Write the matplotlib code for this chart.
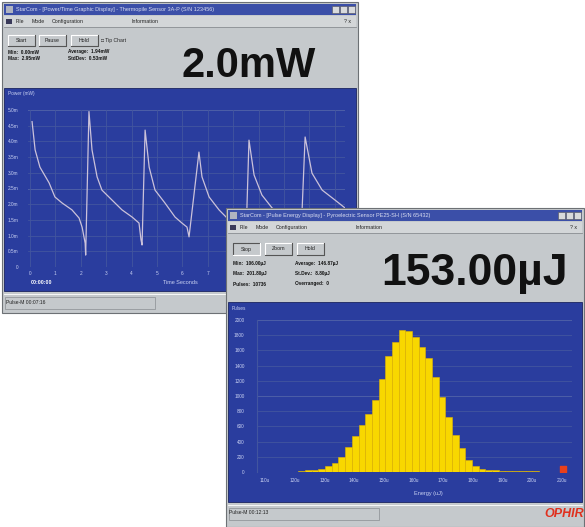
import matplotlib
matplotlib.use("Agg")
import matplotlib.pyplot as plt
from matplotlib.patches import Rectangle

plt.rcParams['font.family'] = ['Liberation Sans', 'DejaVu Sans']

# ---------------- data ----------------
# Window 1: power vs time trace
t_sec = [0.08, 0.20, 0.39, 0.75, 0.98, 1.26, 1.65, 1.93, 2.05, 2.17, 2.19,
         2.32, 2.44, 2.64, 2.83, 3.23, 3.62, 4.02, 4.29, 4.37, 4.41,
         4.53, 4.69, 4.92, 5.31, 5.71, 5.98, 6.18, 6.26,
         6.65, 6.77, 7.05, 7.44, 7.83, 8.15, 8.35, 8.50,
         8.62, 8.82, 9.13, 9.53, 10.12, 10.51, 10.67,
         10.83, 11.10, 11.50, 12.01, 12.40]
p_mW = [4.63, 3.73, 3.18, 2.68, 2.23, 2.04, 1.82, 1.56, 1.27, 0.76, 0.38,
        4.95, 3.73, 2.87, 2.45, 2.13, 1.82, 1.59, 1.40, 0.86, 0.70,
        4.36, 3.18, 2.45, 2.04, 1.59, 1.40, 1.27, 0.96,
        3.66, 2.87, 2.23, 1.82, 1.50, 1.31, 1.11, 0.86,
        4.04, 2.93, 2.29, 1.88, 1.56, 1.34, 1.02,
        4.14, 2.99, 2.45, 2.13, 1.88]
time_ticks = list(range(0, 13))
# labels from 8 s on are hidden behind the second window
time_labels = ["0", "1", "2", "3", "4", "5", "6", "7", "", "", "", "", ""]
power_ticks = [0.0, 0.5, 1.0, 1.5, 2.0, 2.5, 3.0, 3.5, 4.0, 4.5, 5.0]
power_labels = ["0", "0.5m", "1.0m", "1.5m", "2.0m", "2.5m", "3.0m", "3.5m",
                "4.0m", "4.5m", "5.0m"]

# Window 2: pulse energy histogram
bin_left_uJ = [119.0, 121.25, 123.5, 125.75, 128.0, 130.25, 132.5, 134.75,
               137.0, 139.25, 141.5, 143.75, 146.0, 148.25, 150.5, 152.75,
               155.0, 157.25, 159.5, 161.75, 164.0, 166.25, 168.5, 170.75,
               173.0, 175.25, 177.5, 179.75, 182.0, 184.25, 186.5, 188.75,
               191.0, 193.25, 195.5, 197.75, 200.0, 202.25, 204.5]
bin_width_uJ = 2.25
pulse_counts = [5, 10, 22, 30, 45, 80, 120, 200, 330, 480, 620, 760, 950,
                1230, 1520, 1715, 1868, 1860, 1780, 1650, 1500, 1250, 990,
                730, 490, 310, 160, 75, 45, 30, 22, 18, 15, 12, 10, 9, 8, 6, 5]
overrange_uJ = [210.3]
overrange_count = [40]
energy_ticks = [110, 120, 130, 140, 150, 160, 170, 180, 190, 200, 210]
energy_labels = ["110u", "120u", "130u", "140u", "150u", "160u", "170u",
                 "180u", "190u", "200u", "210u"]
count_ticks = [0, 200, 400, 600, 800, 1000, 1200, 1400, 1600, 1800, 2000]
count_labels = ["0", "200", "400", "600", "800", "1000", "1200", "1400",
                "1600", "1800", "2000"]

# ---------------- style ----------------
W, H = 585, 527
GREY = '#c5c9cc'
GREY_D = '#8a8e92'
PANEL = '#2a3d9e'
TITLE = '#3b4fa8'
GRID_F = '#42559f'
GRID_B = '#7d8ccc'
TXT_P = '#c9d1f2'
LINE = '#cbc2da'
YELLOW = '#f8d700'

fig = plt.figure(figsize=(W / 100, H / 100), dpi=100)
fig.patch.set_facecolor('white')


def rect(x, y, w, h):
    return [x / W, 1 - (y + h) / H, w / W, h / H]


def chrome_axes(z):
    a = fig.add_axes([0, 0, 1, 1])
    a.set_xlim(0, W)
    a.set_ylim(H, 0)
    a.axis('off')
    a.patch.set_alpha(0)
    a.set_zorder(z)
    return a


def button(a, x, y, w, h, label, pressed=False):
    a.add_patch(Rectangle((x, y), w, h, facecolor=GREY, edgecolor='none'))
    c1, c2 = ('#555', 'white') if pressed else ('white', '#555')
    a.plot([x, x, x + w], [y + h, y, y], color=c1, lw=0.8)
    a.plot([x, x + w, x + w], [y + h, y + h, y], color=c2, lw=0.8)
    a.text(x + w / 2, y + h / 2, label, fontsize=3.8, ha='center', va='center', color='#222')


def window(a, x0, y0, x1, y1, title, header_y1, panel_y1, status_y1):
    a.add_patch(Rectangle((x0, y0), x1 - x0, y1 - y0, facecolor=GREY, edgecolor='#6d7175', lw=0.8))
    # title bar
    a.add_patch(Rectangle((x0 + 2, y0 + 2), x1 - x0 - 4, 11, facecolor=TITLE, edgecolor='none'))
    a.text(x0 + 14, y0 + 7.5, title, fontsize=4, color='#d8dcf0', va='center', ha='left')
    a.add_patch(Rectangle((x0 + 4, y0 + 4), 7, 7, facecolor='#b0b4c0', edgecolor='none'))
    for i in range(3):
        bx = x1 - 26 + i * 8
        a.add_patch(Rectangle((bx, y0 + 4), 7, 7, facecolor='#d8dadc', edgecolor='#555', lw=0.4))
    # menu bar
    my = y0 + 14
    a.add_patch(Rectangle((x0 + 2, my), x1 - x0 - 4, 11, facecolor='#d3d6d8', edgecolor='none'))
    a.plot([x0 + 2, x1 - 2], [my + 11, my + 11], color=GREY_D, lw=0.6)
    a.add_patch(Rectangle((x0 + 4, my + 3), 6, 5, facecolor='#3a3a5a', edgecolor='none'))
    for tx, s in [(14, 'File'), (30, 'Mode'), (50, 'Configuration'), (130, 'Information')]:
        a.text(x0 + tx, my + 5.5, s, fontsize=3.8, color='#222', va='center')
    a.text(x1 - 14, my + 5.5, '? x', fontsize=3.8, color='#222', va='center')
    # blue panel
    a.add_patch(Rectangle((x0 + 2, header_y1), x1 - x0 - 4, panel_y1 - header_y1,
                          facecolor=PANEL, edgecolor='#1a2460', lw=0.6))
    # status bar
    a.plot([x0 + 2, x1 - 2], [panel_y1 + 3, panel_y1 + 3], color='white', lw=0.6)
    a.add_patch(Rectangle((x0 + 3, panel_y1 + 6), 150, status_y1 - panel_y1 - 8,
                          facecolor='none', edgecolor=GREY_D, lw=0.5))


# ---------- Window 1 ----------
c1 = chrome_axes(1)
window(c1, 2, 2, 358, 313,
       'StarCom - [Power/Time Graphic Display] - Thermopile Sensor 3A-P (S/N 123456)',
       88, 291, 311)
button(c1, 8, 35, 27, 11, 'Start')
button(c1, 39, 35, 27, 11, 'Pause')
button(c1, 71, 35, 27, 11, 'Hold')
c1.text(101, 40.5, '\u25a1 Tip Chart', fontsize=3.6, color='#222', va='center')
c1.text(8, 52, 'Min:  0.00mW', fontsize=3.4, color='#111', weight='bold', va='center')
c1.text(8, 59, 'Max:  2.95mW', fontsize=3.4, color='#111', weight='bold', va='center')
c1.text(68, 52, 'Average:  1.94mW', fontsize=3.4, color='#111', weight='bold', va='center')
c1.text(68, 59, 'StdDev:  0.53mW', fontsize=3.4, color='#111', weight='bold', va='center')
c1.text(249, 66, '2.0mW', fontsize=30, weight='bold', color='#111', ha='center', va='center')
c1.text(8, 93, 'Power (mW)', fontsize=3.4, color=TXT_P, va='center')
c1.text(31, 282, '00:00:00', fontsize=3.8, color='white', weight='bold', va='center')
c1.text(180, 282, 'Time Seconds', fontsize=4, color=TXT_P, ha='center', va='center')
c1.text(6, 303, 'Pulse-M 00:07:16', fontsize=3.6, color='#222', va='center')

ax1 = fig.add_axes(rect(28, 110, 317, 157))
ax1.set_zorder(2)
ax1.set_facecolor(PANEL)
ax1.plot(t_sec, p_mW, color=LINE, lw=0.9)
ax1.set_xlim(-0.08, 12.4)
ax1.set_ylim(0, 5.0)
ax1.set_xticks(time_ticks)
ax1.set_xticklabels(time_labels)
ax1.set_yticks(power_ticks)
ax1.set_yticklabels(power_labels)
ax1.tick_params(length=0, labelsize=3.4, labelcolor=TXT_P, pad=3)
ax1.tick_params(axis='y', pad=7)
ax1.grid(True, color=GRID_F, lw=0.6)
for v in (2.5, 5.0):
    ax1.axhline(v, color=GRID_B, lw=0.7, zorder=0.5)
for s in ax1.spines.values():
    s.set_visible(False)
ax1.set_axisbelow(True)

# ---------- Window 2 ----------
c2 = chrome_axes(3)
window(c2, 226, 208, 584, 527,
       'StarCom - [Pulse Energy Display] - Pyroelectric Sensor PE25-SH (S/N 65432)',
       302, 502, 522)
button(c2, 233, 243, 27, 12, 'Stop', pressed=True)
button(c2, 265, 243, 27, 12, 'Zoom')
button(c2, 297, 243, 27, 12, 'Hold')
for yy, a_txt, b_txt in [(264, 'Min:  106.00\u00b5J', 'Average:  146.87\u00b5J'),
                         (274, 'Max:  201.80\u00b5J', 'St.Dev.:  8.80\u00b5J'),
                         (284, 'Pulses:  10736', 'Overranged:  0')]:
    c2.text(233, yy, a_txt, fontsize=3.4, color='#111', weight='bold', va='center')
    c2.text(295, yy, b_txt, fontsize=3.4, color='#111', weight='bold', va='center')
c2.text(475, 273, '153.00\u00b5J', fontsize=32, weight='bold', color='#111',
        ha='center', va='center')
c2.text(232, 309, 'Pulses', fontsize=3.4, color=TXT_P, va='center')
c2.text(428, 493, 'Energy (uJ)', fontsize=4, color=TXT_P, ha='center', va='center')
c2.text(229, 513, 'Pulse-M 00:12:13', fontsize=3.6, color='#222', va='center')
c2.text(584, 514, 'OPHIR', fontsize=9, color='#e0301e', weight='bold', style='italic',
        ha='right', va='center')

ax2 = fig.add_axes(rect(257, 320, 315, 152))
ax2.set_zorder(4)
ax2.set_facecolor(PANEL)
ax2.bar(bin_left_uJ, pulse_counts, width=bin_width_uJ, align='edge',
        color=YELLOW, edgecolor='#e3b400', lw=0.4, zorder=3)
ax2.scatter(overrange_uJ, overrange_count, marker='s', s=14, color='#e8401c', zorder=4)
ax2.axhline(0, color='#9aa6d8', lw=0.7, zorder=4)
ax2.set_xlim(107.3, 213.4)
ax2.set_ylim(0, 2000)
ax2.set_xticks(energy_ticks)
ax2.set_xticklabels(energy_labels)
ax2.set_yticks(count_ticks)
ax2.set_yticklabels(count_labels)
ax2.tick_params(length=0, labelsize=3.4, labelcolor=TXT_P, pad=4)
ax2.tick_params(axis='y', pad=9)
ax2.grid(True, axis='y', color=GRID_F, lw=0.6)
for v in (1000, 2000):
    ax2.axhline(v, color=GRID_B, lw=0.7, zorder=0.5)
for s in ax2.spines.values():
    s.set_visible(False)
ax2.spines['left'].set_visible(True)
ax2.spines['left'].set_color(GRID_F)
ax2.set_axisbelow(True)

fig.savefig('out.png', dpi=100, facecolor='white')
